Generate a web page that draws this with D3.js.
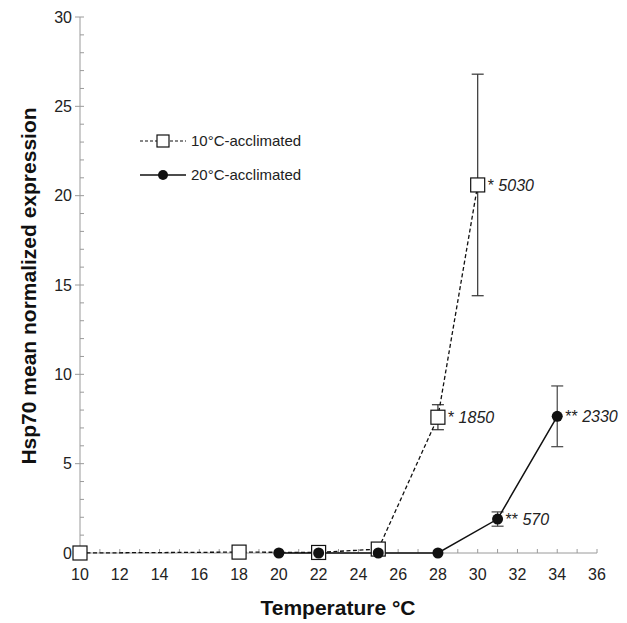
<!DOCTYPE html>
<html><head><meta charset="utf-8">
<script src="https://cdn.jsdelivr.net/npm/d3@7"></script>
<style>body{margin:0;background:#fff}svg{display:block}</style>
</head><body>
<script>
const temps10 = [10, 18, 22, 25, 28, 30];
const vals10  = [0, 0.05, 0.03, 0.22, 7.6, 20.6];
const err10   = [0, 0, 0, 0, 0.7, 6.2];
const temps20 = [20, 22, 25, 28, 31, 34];
const vals20  = [0, 0, 0, 0, 1.9, 7.65];
const err20   = [0, 0, 0, 0, 0.4, 1.7];
const labels10 = [null, null, null, null, ["*", "1850"], ["*", "5030"]];
const labels20 = [null, null, null, null, ["**", "570"], ["**", "2330"]];
const xTicks = [10,12,14,16,18,20,22,24,26,28,30,32,34,36];
const yTicks = [0,5,10,15,20,25,30];
const seriesNames = ["10\u00B0C-acclimated", "20\u00B0C-acclimated"];

const W = 627, H = 623;
const svg = d3.select("body").append("svg").attr("width", W).attr("height", H);
const x = d3.scaleLinear().domain([10, 36]).range([80, 597]);
const y = d3.scaleLinear().domain([0, 30]).range([553, 17]);
const font = "Liberation Sans, Arial, sans-serif";
const axisCol = "#9a9a9a";

svg.append("line").attr("x1", x(10)).attr("x2", x(10)).attr("y1", y(30)).attr("y2", y(0)).attr("stroke", axisCol);
svg.append("line").attr("x1", x(10)).attr("x2", x(36)).attr("y1", y(0)).attr("y2", y(0)).attr("stroke", axisCol);
d3.range(0, 31, 1).forEach(v => {
  const major = v % 5 === 0;
  svg.append("line").attr("x1", major ? x(10) - 5 : x(10)).attr("x2", x(10) + 4)
    .attr("y1", y(v)).attr("y2", y(v)).attr("stroke", axisCol);
});
d3.range(10, 37, 1).forEach(v => {
  svg.append("line").attr("x1", x(v)).attr("x2", x(v)).attr("y1", y(0)).attr("y2", y(0) - 4).attr("stroke", axisCol);
});
svg.selectAll(".yl").data(yTicks).enter().append("text")
  .attr("x", x(10) - 8).attr("y", d => y(d)).attr("dy", "0.35em").attr("text-anchor", "end")
  .attr("font-family", font).attr("font-size", 16).attr("fill", "#222").text(d => d);
svg.selectAll(".xl").data(xTicks).enter().append("text")
  .attr("x", d => x(d)).attr("y", y(0) + 27).attr("text-anchor", "middle")
  .attr("font-family", font).attr("font-size", 16).attr("fill", "#222").text(d => d);

svg.append("text").attr("x", 338).attr("y", 615).attr("text-anchor", "middle")
  .attr("font-family", font).attr("font-weight", "bold").attr("font-size", 21).attr("fill", "#111")
  .text("Temperature \u00B0C");
svg.append("text").attr("transform", "translate(36,286) rotate(-90)").attr("text-anchor", "middle")
  .attr("font-family", font).attr("font-weight", "bold").attr("font-size", 21).attr("fill", "#111")
  .text("Hsp70 mean normalized expression");

const line = d3.line().x(d => x(d[0])).y(d => y(d[1]));
const d10 = temps10.map((t, i) => [t, vals10[i], err10[i], labels10[i]]);
const d20 = temps20.map((t, i) => [t, vals20[i], err20[i], labels20[i]]);

function errBars(data, col) {
  data.filter(d => d[2] > 0).forEach(d => {
    const g = svg.append("g").attr("stroke", col).attr("stroke-width", 1.2);
    g.append("line").attr("x1", x(d[0])).attr("x2", x(d[0])).attr("y1", y(d[1] + d[2])).attr("y2", y(d[1] - d[2]));
    g.append("line").attr("x1", x(d[0]) - 6).attr("x2", x(d[0]) + 6).attr("y1", y(d[1] + d[2])).attr("y2", y(d[1] + d[2]));
    g.append("line").attr("x1", x(d[0]) - 6).attr("x2", x(d[0]) + 6).attr("y1", y(d[1] - d[2])).attr("y2", y(d[1] - d[2]));
  });
}
errBars(d10, "#333");
errBars(d20, "#444");

svg.append("path").datum(d10).attr("d", line).attr("fill", "none").attr("stroke", "#111")
  .attr("stroke-width", 1.3).attr("stroke-dasharray", "4,2.5");
svg.append("path").datum(d20).attr("d", line).attr("fill", "none").attr("stroke", "#111")
  .attr("stroke-width", 1.5);

svg.selectAll(".sq").data(d10).enter().append("rect")
  .attr("x", d => x(d[0]) - 7).attr("y", d => y(d[1]) - 7).attr("width", 14).attr("height", 14)
  .attr("fill", "#fff").attr("stroke", "#111").attr("stroke-width", 1.2);
svg.selectAll(".ci").data(d20).enter().append("circle")
  .attr("cx", d => x(d[0])).attr("cy", d => y(d[1])).attr("r", 5.5).attr("fill", "#111");

function labels(data, dx) {
  data.filter(d => d[3]).forEach(d => {
    const t = svg.append("text").attr("x", x(d[0]) + dx).attr("y", y(d[1])).attr("dy", "0.35em")
      .attr("font-family", font).attr("font-size", 16).attr("fill", "#222");
    t.append("tspan").text(d[3][0] + " ");
    t.append("tspan").attr("font-style", "italic").text(d[3][1]);
  });
}
labels(d10, 10);
labels(d20, 8);

const lg = svg.append("g");
lg.append("line").attr("x1", 140).attr("x2", 186).attr("y1", 141).attr("y2", 141).attr("stroke", "#111")
  .attr("stroke-width", 1.2).attr("stroke-dasharray", "3,2");
lg.append("rect").attr("x", 157).attr("y", 135).attr("width", 12).attr("height", 12)
  .attr("fill", "#fff").attr("stroke", "#111").attr("stroke-width", 1.2);
lg.append("line").attr("x1", 140).attr("x2", 186).attr("y1", 175).attr("y2", 175).attr("stroke", "#111").attr("stroke-width", 1.5);
lg.append("circle").attr("cx", 163).attr("cy", 175).attr("r", 5).attr("fill", "#111");
lg.selectAll(".lt").data(seriesNames).enter().append("text")
  .attr("x", 191).attr("y", (d, i) => 141 + i * 34).attr("dy", "0.35em")
  .attr("font-family", font).attr("font-size", 15).attr("fill", "#222").text(d => d);
</script>
</body></html>
